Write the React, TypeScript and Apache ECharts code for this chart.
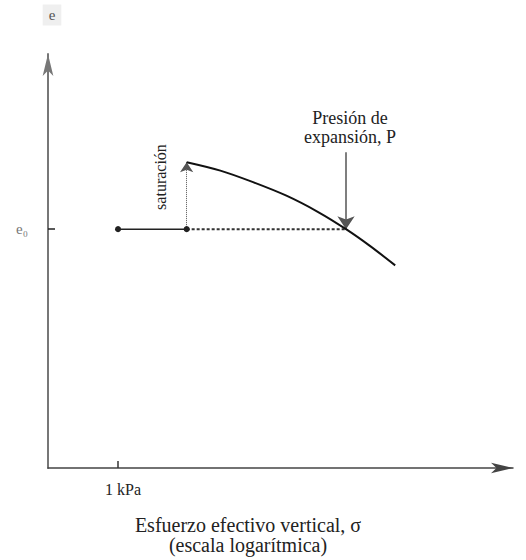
import React, { useEffect, useRef } from 'react';
import * as echarts from 'echarts';

// ---- data (schematic e – log σ curve) ----
const X_MIN = 0.243; // kPa, axis start (log scale)
const X_MAX = 2917; // kPa, axis end
const Y_MAX = 1.04;
const E0 = 0.6; // initial void ratio
const flatSigma = [1, 4]; // kPa, loading before saturation
const dashedSigma = [4, 100]; // kPa, from saturation point to P
const curveSigma = [4, 7.9, 15.3, 30, 57, 100, 162, 270];
const curveE = [0.768, 0.747, 0.718, 0.684, 0.643, 0.6, 0.558, 0.509];
const satArrowE = [E0, 0.768];
const pressureSigma = 100; // swelling pressure P
const pressureArrowE = [0.793, E0];
const xTickValues = [1];
const xTickLabels = ['1 kPa'];

const SERIF = '"Liberation Serif", "Times New Roman", serif';

export default function App() {
  const ref = useRef<HTMLDivElement>(null);
  useEffect(() => {
    if (!ref.current) return;
    const chart = echarts.init(ref.current, undefined, { renderer: 'svg' });
    const option: any = {
      animation: false,
      backgroundColor: '#ffffff',
      grid: { left: 48, right: 13, top: 54, bottom: 92, containLabel: false },
      xAxis: {
        type: 'log',
        logBase: 10,
        min: X_MIN,
        max: X_MAX,
        axisLine: {
          show: true,
          lineStyle: { color: '#444', width: 1.5 },
          symbol: ['none', 'arrow'],
          symbolSize: [8, 22],
        },
        axisTick: {
          show: true,
          inside: true,
          length: 7,
          customValues: xTickValues,
          lineStyle: { color: '#333', width: 1.5 },
        },
        axisLabel: {
          customValues: xTickValues,
          formatter: (v: number) => xTickLabels[xTickValues.indexOf(v)] ?? '',
          fontFamily: SERIF,
          fontSize: 16,
          color: '#222',
          margin: 13,
          padding: [0, 0, 0, 10],
        },
        splitLine: { show: false },
        minorTick: { show: false },
      },
      yAxis: {
        type: 'value',
        min: 0,
        max: Y_MAX,
        axisLine: {
          show: true,
          lineStyle: { color: '#777', width: 2 },
          symbol: ['none', 'arrow'],
          symbolSize: [8, 22],
        },
        axisTick: {
          show: true,
          inside: true,
          length: 7,
          customValues: [E0],
          lineStyle: { color: '#222', width: 1.5 },
        },
        axisLabel: {
          customValues: [E0],
          formatter: () => 'e₀',
          fontFamily: SERIF,
          fontSize: 15,
          color: '#777',
          margin: 20,
        },
        splitLine: { show: false },
      },
      series: [
        {
          type: 'line',
          data: flatSigma.map((s) => [s, E0]),
          symbol: 'circle',
          symbolSize: 6,
          itemStyle: { color: '#222' },
          lineStyle: { color: '#222', width: 1.5 },
          z: 5,
        },
        {
          type: 'line',
          data: dashedSigma.map((s) => [s, E0]),
          symbol: 'none',
          lineStyle: { color: '#333', width: 2, type: [3, 2] },
        },
        {
          type: 'line',
          data: curveSigma.map((s, i) => [s, curveE[i]]),
          symbol: 'none',
          smooth: 0.3,
          lineStyle: { color: '#111', width: 2 },
        },
        {
          type: 'lines',
          coordinateSystem: 'cartesian2d',
          symbol: ['none', 'arrow'],
          symbolSize: 10,
          lineStyle: { color: '#555', width: 1, type: 'dotted', opacity: 1 },
          data: [{ coords: [[flatSigma[1], satArrowE[0]], [flatSigma[1], satArrowE[1]]] }],
        },
        {
          type: 'lines',
          coordinateSystem: 'cartesian2d',
          symbol: ['none', 'arrow'],
          symbolSize: 13,
          lineStyle: { color: '#555', width: 1.5, type: 'solid', opacity: 1 },
          data: [{ coords: [[pressureSigma, pressureArrowE[0]], [pressureSigma, pressureArrowE[1]]] }],
        },
      ],
      graphic: [
        {
          type: 'text',
          x: 52,
          y: 15,
          style: {
            text: 'e',
            font: `15px ${SERIF}`,
            fill: '#555',
            align: 'center',
            verticalAlign: 'middle',
            backgroundColor: '#efefef',
            padding: [3, 6],
          },
        },
        {
          type: 'text',
          x: 350,
          y: 127,
          style: {
            text: 'Presión de\nexpansión, P',
            font: `18px ${SERIF}`,
            lineHeight: 19,
            fill: '#222',
            align: 'center',
            verticalAlign: 'middle',
          },
        },
        {
          type: 'text',
          x: 160,
          y: 177,
          rotation: Math.PI / 2,
          style: {
            text: 'saturación',
            font: `16px ${SERIF}`,
            fill: '#222',
            align: 'center',
            verticalAlign: 'middle',
          },
        },
        {
          type: 'text',
          x: 248,
          y: 535,
          style: {
            text: 'Esfuerzo efectivo vertical, σ\n(escala logarítmica)',
            font: `20px ${SERIF}`,
            lineHeight: 20,
            fill: '#222',
            align: 'center',
            verticalAlign: 'middle',
          },
        },
      ],
    };
    chart.setOption(option);
    return () => chart.dispose();
  }, []);
  return <div ref={ref} style={{ width: 526, height: 560, position: 'absolute', left: 0, top: 0 }} />;
}
